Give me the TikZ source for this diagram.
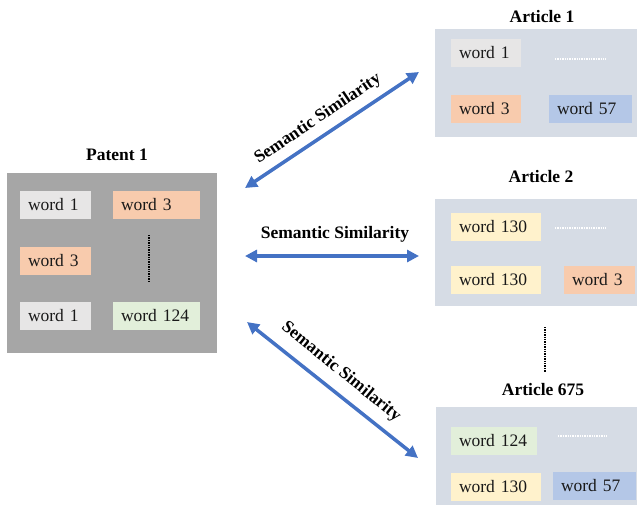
\documentclass[tikz,border=0pt]{standalone}
\usepackage{fontspec}
\setmainfont{Liberation Serif}
\usetikzlibrary{arrows.meta}
\definecolor{patentgray}{HTML}{A6A6A6}
\definecolor{artbg}{HTML}{D6DCE5}
\definecolor{wgray}{HTML}{E7E6E6}
\definecolor{worange}{HTML}{F8CBAD}
\definecolor{wgreen}{HTML}{E2EFDA}
\definecolor{wblue}{HTML}{B4C7E7}
\definecolor{wyellow}{HTML}{FFF2CC}
\definecolor{arrowblue}{HTML}{4472C4}
\begin{document}
\begin{tikzpicture}[x=1pt,y=-1pt,
  wbox/.style={inner xsep=8pt, inner ysep=0pt, minimum height=28pt, align=left,
    font=\fontsize{17.5}{20}\selectfont, text=black!90},
  title/.style={font=\fontsize{17.5}{20}\selectfont\bfseries},
  simarrow/.style={draw=arrowblue, line width=3.5pt, {Triangle[length=12pt,width=12pt]}-{Triangle[length=12pt,width=12pt]}},
  simlabel/.style={font=\fontsize{17.5}{20}\selectfont\bfseries},
  bdots/.style={draw=black, line width=2.2pt, dash pattern=on 1.3pt off 1.1pt},
  wdots/.style={draw=white, line width=1.5pt, dash pattern=on 1.3pt off 1.1pt}
]
\useasboundingbox (0,0) rectangle (639,508);

% Patent
\fill[patentgray] (7,173) rectangle (217,353);
\node[title] (pt) at (117,155) {Patent 1};
\node[wbox, fill=wgray, text width=55pt] (p1) at (55.5,205) {word 1};
\node[wbox, fill=worange, text width=71pt] (p2) at (156.5,205) {word 3};
\node[wbox, fill=worange, text width=55pt] (p3) at (55.5,260.5) {word 3};
\node[wbox, fill=wgray, text width=55pt] (p4) at (55.5,315.5) {word 1};
\node[wbox, fill=wgreen, text width=71pt] (p5) at (156.5,315.5) {word 124};
\coordinate (pdA) at (149,235);
\coordinate (pdB) at (149,281);
\draw[bdots] (pdA) -- (pdB);

% Article 1
\fill[artbg] (435,29) rectangle (637,137);
\node[title] (a1t) at (542,17) {Article 1};
\node[wbox, fill=wgray, text width=54pt] (a11) at (486,53) {word 1};
\node[wbox, fill=worange, text width=54pt] (a12) at (486,109) {word 3};
\node[wbox, fill=wblue, text width=67pt] (a13) at (590.5,109) {word 57};
\coordinate (a1dA) at (555,59);
\coordinate (a1dB) at (606,59);
\draw[wdots] (a1dA) -- (a1dB);

% Article 2
\fill[artbg] (435,199) rectangle (637,306);
\node[title] (a2t) at (541,177) {Article 2};
\node[wbox, fill=wyellow, text width=74pt] (a21) at (496,227) {word 130};
\node[wbox, fill=wyellow, text width=74pt] (a22) at (496,279.5) {word 130};
\node[wbox, fill=worange, text width=55pt] (a23) at (599.5,280) {word 3};
\coordinate (a2dA) at (555,228);
\coordinate (a2dB) at (606,228);
\draw[wdots] (a2dA) -- (a2dB);

% between
\coordinate (mdA) at (545,327);
\coordinate (mdB) at (545,372);
\draw[bdots] (mdA) -- (mdB);

% Article 675
\fill[artbg] (436,407) rectangle (637,505);
\node[title] (a3t) at (543,390) {Article 675};
\node[wbox, fill=wgreen, text width=70pt] (a31) at (494,440.5) {word 124};
\node[wbox, fill=wyellow, text width=74pt] (a32) at (496,487) {word 130};
\node[wbox, fill=wblue, text width=67pt] (a33) at (594.5,486) {word 57};
\coordinate (a3dA) at (558,436);
\coordinate (a3dB) at (608,436);
\draw[wdots] (a3dA) -- (a3dB);

% arrows
\coordinate (s1a) at (245,188);
\coordinate (s1b) at (419,72);
\coordinate (s2a) at (245,256);
\coordinate (s2b) at (419,256);
\coordinate (s3a) at (247,322);
\coordinate (s3b) at (418,458);
\draw[simarrow] (s1a) -- (s1b);
\draw[simarrow] (s2a) -- (s2b);
\draw[simarrow] (s3a) -- (s3b);
\node[simlabel, rotate=34] (l1) at (318,119) {Semantic Similarity};
\node[simlabel] (l2) at (335,234) {Semantic Similarity};
\node[simlabel, rotate=-39] (l3) at (341,372) {Semantic Similarity};
\end{tikzpicture}
\end{document}
